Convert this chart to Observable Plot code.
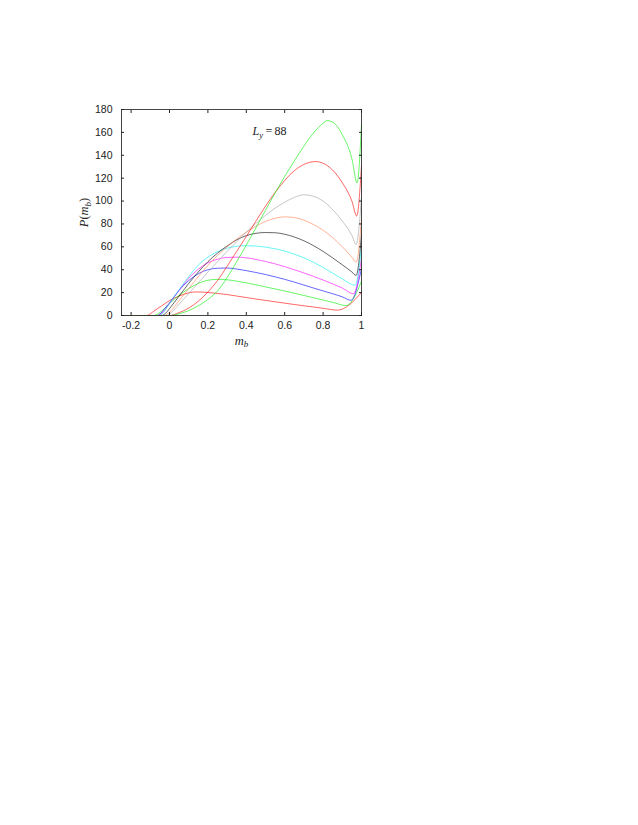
<!DOCTYPE html>
<html><head><meta charset="utf-8">
<script src="https://cdn.jsdelivr.net/npm/d3@7"></script>
<script src="https://cdn.jsdelivr.net/npm/@observablehq/plot@0.6"></script>
<style>body{margin:0;background:#fff;} svg{display:block;}</style>
</head><body><div id="chart"></div>
<script>
const xTicks = [-0.2, 0, 0.2, 0.4, 0.6, 0.8, 1];
const yTicks = [0, 20, 40, 60, 80, 100, 120, 140, 160, 180];
const annotation = ["L_y = 88"];

// [m_b, P(m_b)]
const curve1 = [[-0.25,0],[-0.12,0],[-0.1,1.5],[-0.08,4],[-0.04,8.5],[0,13],[0.05,17],[0.1,19.8],[0.14,20.6],[0.2,20.1],[0.25,19.3],[0.3,18.3],[0.35,17],[0.4,15.7],[0.45,14.4],[0.5,13.2],[0.55,12],[0.6,10.8],[0.65,9.6],[0.7,8.5],[0.75,7.4],[0.8,6.3],[0.875,4.7],[1,20]];
const curve2 = [[-0.25,0],[-0.08,0],[-0.06,1.5],[-0.04,4],[-0.02,7],[0,10.5],[0.05,17.5],[0.1,23.5],[0.15,28],[0.2,30.8],[0.25,31.6],[0.3,31.2],[0.35,30],[0.4,28.5],[0.45,26.8],[0.5,25],[0.55,23.2],[0.6,21.4],[0.65,19.5],[0.7,17.5],[0.75,15.5],[0.8,13.5],[0.85,11.5],[0.92,8.7],[1,30]];
const curve3 = [[-0.25,0],[-0.065,0],[-0.045,2],[-0.025,6],[0,11],[0.05,22],[0.1,30.5],[0.15,36.5],[0.2,40],[0.25,41.3],[0.3,41.5],[0.35,40.6],[0.4,39.2],[0.45,37.6],[0.5,35.8],[0.55,33.8],[0.6,31.6],[0.65,29.2],[0.7,26.6],[0.75,24],[0.8,21.5],[0.85,19],[0.9,16.3],[0.945,13.3],[1,41]];
const curve4 = [[-0.25,0],[-0.06,0],[-0.04,2],[-0.02,6],[0,10.5],[0.05,22],[0.1,32.5],[0.15,40.5],[0.2,46],[0.25,49.2],[0.3,50.7],[0.35,51],[0.4,50.4],[0.45,49],[0.5,47.2],[0.55,45.1],[0.6,42.7],[0.65,40],[0.7,37.2],[0.75,34.2],[0.8,31],[0.85,27.6],[0.9,24],[0.958,19],[1,50]];
const curve5 = [[-0.25,0],[-0.055,0],[-0.035,2],[-0.015,6.5],[0,10.5],[0.05,22.5],[0.1,34],[0.15,44],[0.2,51],[0.25,55.8],[0.3,58.8],[0.35,60.5],[0.4,61],[0.45,60.7],[0.5,59.8],[0.55,58.3],[0.6,56.3],[0.65,53.6],[0.7,50.4],[0.75,46.5],[0.8,42],[0.85,37],[0.9,32],[0.967,26.5],[1,60]];
const curve6 = [[-0.25,0],[-0.04,0],[-0.02,2],[0,6],[0.05,17],[0.1,28],[0.15,38],[0.2,47],[0.25,54.5],[0.3,60.7],[0.35,66.1],[0.4,69.8],[0.45,71.8],[0.5,72.5],[0.55,72.3],[0.6,71],[0.65,68.6],[0.7,65.3],[0.75,61],[0.8,56],[0.85,50.3],[0.9,44.3],[0.95,38],[0.972,35],[1,71]];
const curve7 = [[-0.25,0],[-0.03,0],[-0.01,1.5],[0.01,4.5],[0.05,13],[0.1,23.5],[0.15,34],[0.2,43.8],[0.25,52.4],[0.3,60],[0.35,66.8],[0.4,72.8],[0.45,78],[0.5,82.2],[0.55,85],[0.6,86.2],[0.65,85.6],[0.7,83.3],[0.75,79.5],[0.8,74.5],[0.85,68],[0.9,60],[0.95,51],[0.972,46.5],[1,85]];
const curve8 = [[-0.25,0],[-0.015,0],[0.005,2],[0.03,6],[0.05,10],[0.1,19],[0.15,28.5],[0.2,38],[0.25,47],[0.3,56],[0.35,64.5],[0.4,72.8],[0.45,80.5],[0.5,87.5],[0.55,93.8],[0.6,99],[0.65,103.2],[0.7,105.5],[0.75,104.2],[0.8,100],[0.85,92.5],[0.9,82.5],[0.95,70],[0.972,62],[1,104]];
const curve9 = [[-0.25,0],[0,0],[0.05,2.5],[0.1,6.5],[0.15,12.5],[0.2,20.5],[0.25,30.5],[0.3,43],[0.35,56],[0.4,69],[0.45,82.5],[0.5,95.5],[0.55,107.5],[0.6,118],[0.65,126.5],[0.7,132],[0.76,134.5],[0.8,133],[0.85,127],[0.9,116],[0.95,100],[0.975,87],[1,131]];
const curve10 = [[-0.25,0],[0.005,0],[0.05,1.5],[0.1,4.3],[0.15,8.5],[0.2,14],[0.25,21.5],[0.3,33],[0.35,47],[0.4,61.5],[0.45,76.5],[0.5,92],[0.55,107],[0.6,121.5],[0.65,135],[0.7,148],[0.75,159.5],[0.8,168],[0.82,170.3],[0.85,169],[0.9,158],[0.95,137],[0.977,116],[1,167]];

const curveColors = ["#ff0000","#00ee00","#0000ff","#ff00ff","#00f0f0","#000000","#ff7f50","#a0a0a0","#ff0000","#00ee00"];
const curves = [curve1,curve2,curve3,curve4,curve5,curve6,curve7,curve8,curve9,curve10];

const rows = curves.flatMap((c, i) => c.map(([m, p]) => ({series: i, color: curveColors[i], m, p})));

const chart = Plot.plot({
  width: 638, height: 375,
  marginLeft: 121, marginRight: 277, marginTop: 109, marginBottom: 60,
  style: {fontFamily: "'Liberation Sans', Arial, sans-serif", fontSize: "10.5px", background: "white", color: "#222"},
  x: {domain: [-0.25, 1]},
  y: {domain: [0, 180]},
  color: {type: "identity"},
  marks: [
    Plot.line(rows, {x: "m", y: "p", z: "series", stroke: "color", strokeWidth: 0.6, curve: "monotone-x"}),
    Plot.frame({stroke: "#333", strokeWidth: 0.9}),
    Plot.axisX(xTicks, {anchor: "bottom", tickSize: -3, tickPadding: 9, tickFormat: d => String(d), label: "m_b", labelAnchor: "center", labelOffset: 29, labelArrow: "none"}),
    Plot.axisX(xTicks, {anchor: "top", tickSize: -3, tickFormat: () => "", label: null}),
    Plot.axisY(yTicks, {anchor: "left", tickSize: -3, tickPadding: 12, tickFormat: d => String(d), label: "P(m_b)", labelAnchor: "center", labelOffset: 42, labelArrow: "none"}),
    Plot.axisY(yTicks, {anchor: "right", tickSize: -3, tickFormat: () => "", label: null}),
    Plot.text(annotation, {text: d => d, frameAnchor: "top-left", dx: 131, dy: 22, textAnchor: "start", lineAnchor: "middle", fontSize: 11})
  ]
});
document.getElementById("chart").appendChild(chart);

// typeset math-style labels as serif (italic variables) with subscripts
const serif = "'Liberation Serif', 'DejaVu Serif', serif";
function typesetSub(el, parts, size) {
  const t = d3.select(el);
  t.text("").attr("font-family", serif).attr("font-size", size);
  let down = false;
  parts.forEach(([s, it, sub]) => {
    const ts = t.append("tspan").text(s).attr("font-family", serif);
    ts.attr("font-style", it ? "italic" : "normal");
    if (sub) { ts.attr("font-size", "0.72em").attr("dy", "0.28em"); down = true; }
    else if (down) { ts.attr("dy", "-0.2em"); down = false; }
  });
}
const svg = d3.select(chart);
svg.selectAll('g[aria-label="x-axis label"] text').each(function() {
  typesetSub(this, [["m", true], ["b", true, true]], 12.5);
});
svg.selectAll('g[aria-label="y-axis label"] text').each(function() {
  typesetSub(this, [["P", true], ["(", false], ["m", true], ["b", true, true], [")", false]], 12.5);
});
svg.selectAll('g[aria-label="text"] text').each(function() {
  typesetSub(this, [["L", true], ["y", true, true], ["\u2009=\u200988", false]], 12);
});
</script>
</body></html>
